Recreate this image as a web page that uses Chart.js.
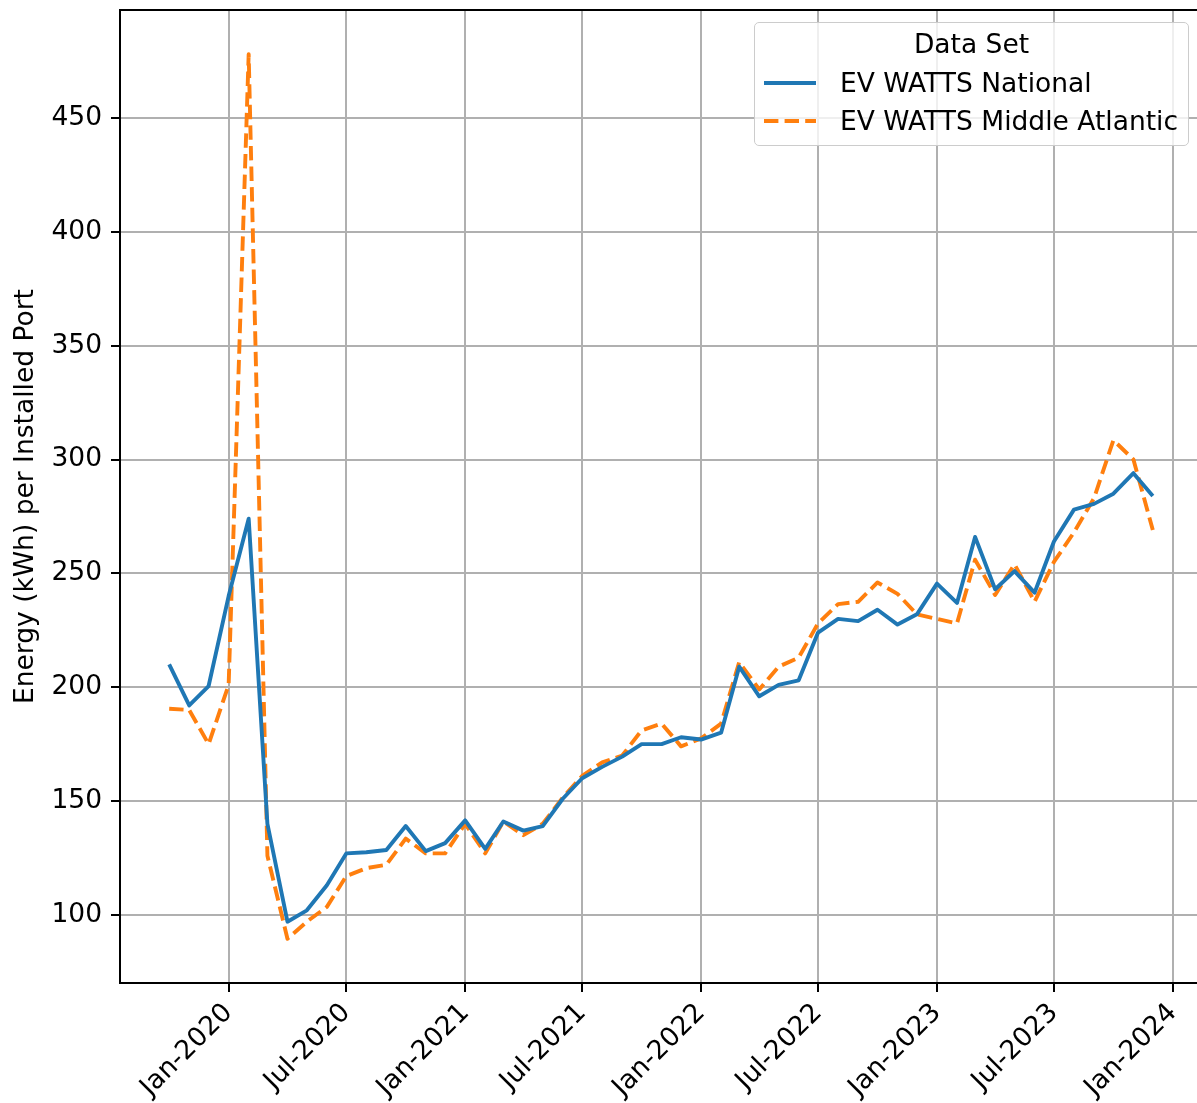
<!DOCTYPE html>
<html>
<head>
<meta charset="utf-8">
<title>EV WATTS — Energy per Installed Port</title>
<script src="https://cdn.jsdelivr.net/npm/chart.js@4.4.3/dist/chart.umd.min.js"></script>
<style>
  html, body { margin:0; padding:0; background:#fff; }
  #wrap { position:relative; width:1197px; height:1103px; overflow:hidden; }
  #chart { position:absolute; left:0; top:0; }
  .legend { position:absolute; left:754px; top:22px; width:435px; height:124px; box-sizing:border-box;
    border:1.5px solid #cccccc; border-radius:5px; background:rgba(255,255,255,.8);
    font-family:'DejaVu Sans', sans-serif; font-size:26.5px; color:#000; }
  .legend .row { position:absolute; height:32px; line-height:32px; white-space:nowrap; }
  .legend .title { left:0; right:0; text-align:center; top:5px; }
  .legend svg { position:absolute; left:8px; }
</style>
</head>
<body>
<div id="wrap">
  <canvas id="chart" width="1205" height="1103"></canvas>
  <div class="legend">
    <div class="row title">Data Set</div>
    <svg style="top:54px" width="56" height="12"><line x1="1" y1="6" x2="53" y2="6" stroke="#1f77b4" stroke-width="3.9"/></svg>
    <div class="row" style="left:85px;top:44px">EV WATTS National</div>
    <svg style="top:92px" width="56" height="12"><line x1="1" y1="6" x2="53" y2="6" stroke="#ff7f0e" stroke-width="3.9" stroke-dasharray="14.4 6.2"/></svg>
    <div class="row" style="left:85px;top:82px">EV WATTS Middle Atlantic</div>
  </div>
</div>
<script>
/* ── data (monthly) ── */
const months = [
  '2019-10','2019-11','2019-12',
  '2020-01','2020-02','2020-03','2020-04','2020-05','2020-06','2020-07','2020-08','2020-09','2020-10','2020-11','2020-12',
  '2021-01','2021-02','2021-03','2021-04','2021-05','2021-06','2021-07','2021-08','2021-09','2021-10','2021-11','2021-12',
  '2022-01','2022-02','2022-03','2022-04','2022-05','2022-06','2022-07','2022-08','2022-09','2022-10','2022-11','2022-12',
  '2023-01','2023-02','2023-03','2023-04','2023-05','2023-06','2023-07','2023-08','2023-09','2023-10','2023-11','2023-12'
];
const national = [
  210, 192, 200.5,
  240, 274, 140, 97, 102, 113, 127, 127.5, 128.5, 139, 128, 131.5,
  141.5, 129, 141, 137, 139, 151, 160, 165, 169.5, 175, 175, 178,
  177, 180, 209, 196, 201, 203, 224, 230, 229, 234, 227.5, 232,
  245.5, 237, 266, 243, 251, 241.5, 264, 278, 280.5, 285, 294, 284
];
const midAtlantic = [
  190.5, 190, 175,
  201, 478, 126, 89.5, 97, 103.5, 117, 120.5, 122, 133.5, 127, 127,
  140, 127, 141, 135, 140, 151.5, 161, 167, 170, 181, 184, 174,
  177.5, 184, 211, 199, 209, 213, 228, 236.5, 237.5, 246, 241, 232,
  230, 228, 256, 240.5, 254, 237.5, 255, 268, 283, 308.5, 300, 269
];
const tickDates  = ['2020-01','2020-07','2021-01','2021-07','2022-01','2022-07','2023-01','2023-07','2024-01'];
const tickLabels = ['Jan-2020','Jul-2020','Jan-2021','Jul-2021','Jan-2022','Jul-2022','Jan-2023','Jul-2023','Jan-2024'];
const yTicks = [100, 150, 200, 250, 300, 350, 400, 450];

const toTime = s => { const [y, m] = s.split('-').map(Number); return Date.UTC(y, m - 1, 1); };
const xs = months.map(toTime);
const xPad = (xs[xs.length - 1] - xs[0]) * 0.05;
const allVals = national.concat(midAtlantic);
const yLo = Math.min(...allVals), yHi = Math.max(...allVals), yPad = (yHi - yLo) * 0.05;

const FONT = { family: "'DejaVu Sans', sans-serif", size: 26.5 };

/* ── frame around plot area (matplotlib spines) ── */
const framePlugin = {
  id: 'frame',
  afterDraw(chart) {
    const { ctx, chartArea: a } = chart;
    ctx.save();
    ctx.strokeStyle = '#000';
    ctx.lineWidth = 2;
    ctx.strokeRect(a.left, a.top, a.right - a.left, a.bottom - a.top);
    ctx.restore();
  }
};

const gridOpts = { color: '#b0b0b0', lineWidth: 2, tickColor: '#000', tickLength: 9, tickWidth: 2 };

new Chart(document.getElementById('chart'), {
  type: 'line',
  data: {
    datasets: [
      { label: 'EV WATTS National', data: xs.map((x, i) => ({ x, y: national[i] })),
        borderColor: '#1f77b4', borderWidth: 3.9, borderJoinStyle: 'round', pointRadius: 0, fill: false },
      { label: 'EV WATTS Middle Atlantic', data: xs.map((x, i) => ({ x, y: midAtlantic[i] })),
        borderColor: '#ff7f0e', borderWidth: 3.9, borderDash: [14.4, 6.2], borderJoinStyle: 'round', pointRadius: 0, fill: false }
    ]
  },
  options: {
    responsive: false, animation: false, devicePixelRatio: 1,
    layout: { padding: { top: 10, right: 3, left: 0, bottom: 0 } },
    plugins: { legend: { display: false }, tooltip: { enabled: false } },
    elements: { line: { tension: 0 } },
    scales: {
      x: {
        type: 'linear', min: xs[0] - xPad, max: xs[xs.length - 1] + xPad,
        afterBuildTicks: ax => { ax.ticks = tickDates.map(d => ({ value: toTime(d) })); },
        afterFit: ax => { ax.height = 120; ax.paddingLeft = 0; ax.paddingRight = 0; },
        grid: gridOpts,
        border: { display: false },
        ticks: { autoSkip: false, minRotation: 45, maxRotation: 45, padding: 11, color: '#000',
          font: { ...FONT, lineHeight: 0.6 }, callback: (v, i) => tickLabels[i] }
      },
      y: {
        min: yLo - yPad, max: yHi + yPad,
        afterBuildTicks: ax => { ax.ticks = yTicks.map(v => ({ value: v })); },
        afterFit: ax => { ax.width = 120; ax.paddingTop = 0; ax.paddingBottom = 0; },
        grid: gridOpts,
        border: { display: false },
        ticks: { padding: 9, color: '#000', font: FONT },
        title: { display: true, text: 'Energy (kWh) per Installed Port', color: '#000', font: FONT,
          padding: { top: 10, bottom: 0 } }
      }
    }
  },
  plugins: [framePlugin]
});
</script>
</body>
</html>
